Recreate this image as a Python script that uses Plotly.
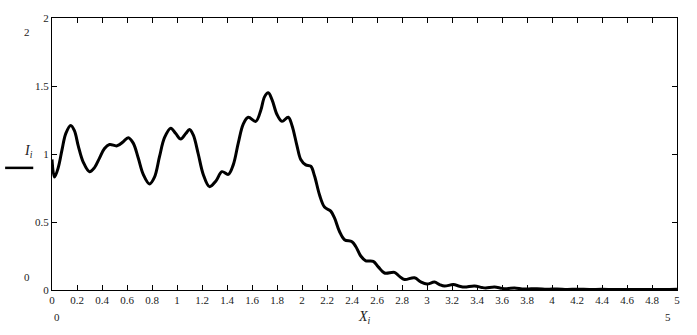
import plotly.graph_objects as go

x_vals = [0.00, 0.02, 0.05, 0.08, 0.11, 0.15, 0.18, 0.21, 0.25, 0.30, 0.34, 0.38, 0.42, 0.46,
          0.52, 0.57, 0.61, 0.65, 0.69, 0.73, 0.78, 0.82, 0.86, 0.90, 0.95, 0.99, 1.03, 1.07,
          1.10, 1.13, 1.17, 1.21, 1.26, 1.31, 1.36, 1.41, 1.45, 1.49, 1.53, 1.57, 1.63, 1.67,
          1.70, 1.73, 1.76, 1.80, 1.84, 1.89, 1.92, 1.96, 1.99, 2.03, 2.07, 2.10, 2.14, 2.18,
          2.23, 2.26, 2.30, 2.34, 2.40, 2.43, 2.47, 2.51, 2.57, 2.61, 2.66, 2.74, 2.78, 2.82,
          2.90, 2.95, 3.00, 3.06, 3.10, 3.14, 3.21, 3.26, 3.30, 3.38, 3.44, 3.47, 3.54, 3.60,
          3.64, 3.70, 3.76, 3.80, 3.88, 3.96, 4.04, 4.12, 4.20, 4.30, 4.40, 4.50, 4.60, 4.70,
          4.80, 4.90, 5.00]
i_vals = [0.96, 0.83, 0.90, 1.03, 1.15, 1.21, 1.17, 1.06, 0.94, 0.87, 0.90, 0.97, 1.04, 1.07,
          1.06, 1.09, 1.12, 1.08, 0.97, 0.85, 0.78, 0.83, 0.98, 1.12, 1.19, 1.15, 1.11, 1.15,
          1.18, 1.14, 1.00, 0.85, 0.76, 0.80, 0.87, 0.85, 0.92, 1.08, 1.22, 1.27, 1.24, 1.32,
          1.42, 1.45, 1.40, 1.29, 1.24, 1.27, 1.21, 1.06, 0.96, 0.92, 0.91, 0.84, 0.70, 0.61,
          0.58, 0.53, 0.43, 0.37, 0.355, 0.32, 0.25, 0.215, 0.21, 0.17, 0.125, 0.13, 0.10, 0.077,
          0.09, 0.06, 0.044, 0.058, 0.04, 0.029, 0.04, 0.028, 0.022, 0.03, 0.018, 0.015, 0.022, 0.012,
          0.010, 0.015, 0.008, 0.007, 0.010, 0.005, 0.008, 0.004, 0.006, 0.004, 0.005, 0.003, 0.004, 0.003,
          0.004, 0.003, 0.005]

FONT = "Times New Roman, Liberation Serif, serif"

fig = go.Figure()
fig.add_trace(go.Scatter(x=x_vals, y=i_vals, mode="lines",
                         line=dict(color="black", width=3, shape="spline", smoothing=1.0),
                         showlegend=False, hoverinfo="skip"))

fig.update_layout(
    width=697, height=335,
    margin=dict(l=52, r=20, t=14, b=45),
    paper_bgcolor="white", plot_bgcolor="white",
    font=dict(family=FONT, size=11, color="#222"),
    xaxis=dict(range=[0, 5], dtick=0.2, tick0=0, showgrid=False, zeroline=False,
               showline=True, linecolor="black", linewidth=1, mirror="allticks",
               ticks="inside", ticklen=5, tickcolor="black", tickwidth=1,
               tickfont=dict(family=FONT, size=11, color="#222")),
    yaxis=dict(range=[0, 2], dtick=0.5, tick0=0, showgrid=False, zeroline=False,
               showline=True, linecolor="black", linewidth=1, mirror="allticks",
               ticks="inside", ticklen=5, tickcolor="black", tickwidth=1,
               tickfont=dict(family=FONT, size=11, color="#222")),
)

ann = [
    dict(text="2", x=-0.04, y=0.949),
    dict(text="0", x=-0.04, y=0.047),
    dict(text="<i>I</i><sub><i>i</i></sub>", x=-0.038, y=0.51, size=14),
    dict(text="<i>X</i><sub><i>i</i></sub>", x=0.50, y=-0.10, size=14),
    dict(text="0", x=0.008, y=-0.10),
    dict(text="5", x=0.986, y=-0.10),
]
for a in ann:
    fig.add_annotation(text=a["text"], x=a["x"], y=a["y"], xref="paper", yref="paper",
                       showarrow=False, xanchor="center", yanchor="middle",
                       font=dict(family=FONT, size=a.get("size", 11), color="#222"))

fig.add_shape(type="line", xref="paper", yref="paper", x0=-0.075, x1=-0.030, y0=0.449, y1=0.449,
              line=dict(color="black", width=2.5))

fig.write_html("out.html")
